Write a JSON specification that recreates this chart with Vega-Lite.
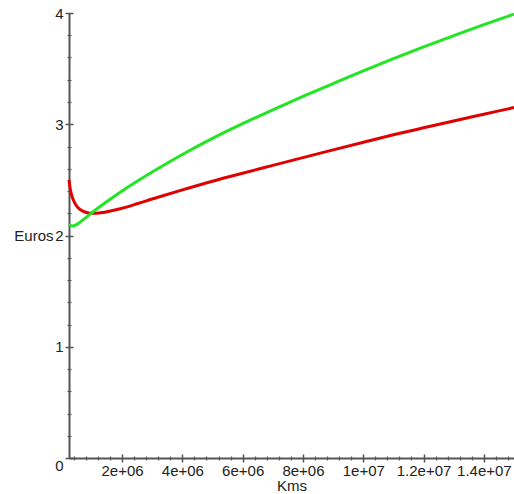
{
  "$schema": "https://vega.github.io/schema/vega-lite/v6.json",
  "width": 445,
  "height": 445,
  "autosize": {"type": "none"},
  "padding": {"left": 69, "top": 13, "right": 0, "bottom": 36},
  "background": "white",
  "config": {
    "view": {"stroke": null},
    "axis": {
      "labelFont": "Liberation Sans",
      "titleFont": "Liberation Sans",
      "labelFontSize": 15,
      "titleFontSize": 15,
      "titleFontWeight": "normal",
      "labelColor": "#222222",
      "titleColor": "#222222",
      "domainColor": "#555555",
      "tickColor": "#555555",
      "grid": false
    }
  },
  "data": {
    "values": [
      {"km": 240000, "euros": 2.5, "serie": "rouge"},
      {"km": 280000, "euros": 2.42, "serie": "rouge"},
      {"km": 330000, "euros": 2.36, "serie": "rouge"},
      {"km": 400000, "euros": 2.31, "serie": "rouge"},
      {"km": 480000, "euros": 2.27, "serie": "rouge"},
      {"km": 580000, "euros": 2.24, "serie": "rouge"},
      {"km": 700000, "euros": 2.219, "serie": "rouge"},
      {"km": 850000, "euros": 2.205, "serie": "rouge"},
      {"km": 1000000, "euros": 2.2, "serie": "rouge"},
      {"km": 1300000, "euros": 2.205, "serie": "rouge"},
      {"km": 2000000, "euros": 2.245, "serie": "rouge"},
      {"km": 2500000, "euros": 2.285, "serie": "rouge"},
      {"km": 3000000, "euros": 2.328, "serie": "rouge"},
      {"km": 4000000, "euros": 2.41, "serie": "rouge"},
      {"km": 5000000, "euros": 2.488, "serie": "rouge"},
      {"km": 6000000, "euros": 2.56, "serie": "rouge"},
      {"km": 7000000, "euros": 2.63, "serie": "rouge"},
      {"km": 8000000, "euros": 2.70, "serie": "rouge"},
      {"km": 9000000, "euros": 2.77, "serie": "rouge"},
      {"km": 10000000, "euros": 2.838, "serie": "rouge"},
      {"km": 11000000, "euros": 2.905, "serie": "rouge"},
      {"km": 12000000, "euros": 2.968, "serie": "rouge"},
      {"km": 13000000, "euros": 3.03, "serie": "rouge"},
      {"km": 14000000, "euros": 3.09, "serie": "rouge"},
      {"km": 15000000, "euros": 3.15, "serie": "rouge"},
      {"km": 240000, "euros": 2.1, "serie": "vert"},
      {"km": 350000, "euros": 2.085, "serie": "vert"},
      {"km": 500000, "euros": 2.1, "serie": "vert"},
      {"km": 700000, "euros": 2.14, "serie": "vert"},
      {"km": 1000000, "euros": 2.205, "serie": "vert"},
      {"km": 1500000, "euros": 2.305, "serie": "vert"},
      {"km": 2000000, "euros": 2.4, "serie": "vert"},
      {"km": 2500000, "euros": 2.487, "serie": "vert"},
      {"km": 3000000, "euros": 2.57, "serie": "vert"},
      {"km": 4000000, "euros": 2.728, "serie": "vert"},
      {"km": 5000000, "euros": 2.873, "serie": "vert"},
      {"km": 6000000, "euros": 3.005, "serie": "vert"},
      {"km": 7000000, "euros": 3.13, "serie": "vert"},
      {"km": 8000000, "euros": 3.25, "serie": "vert"},
      {"km": 9000000, "euros": 3.366, "serie": "vert"},
      {"km": 10000000, "euros": 3.48, "serie": "vert"},
      {"km": 11000000, "euros": 3.59, "serie": "vert"},
      {"km": 12000000, "euros": 3.695, "serie": "vert"},
      {"km": 13000000, "euros": 3.796, "serie": "vert"},
      {"km": 14000000, "euros": 3.895, "serie": "vert"},
      {"km": 15000000, "euros": 3.99, "serie": "vert"}
    ]
  },
  "layer": [
    {
      "mark": {"type": "line", "strokeWidth": 3, "interpolate": "monotone"},
      "encoding": {
        "x": {
          "field": "km", "type": "quantitative",
          "scale": {"domain": [240000, 15000000], "nice": false, "zero": false},
          "axis": {
            "orient": "bottom", "offset": -4, "domain": false, "tickSize": 8, "tickWidth": 1.5,
            "values": [2000000, 4000000, 6000000, 8000000, 10000000, 12000000, 14000000],
            "labelPadding": 1, "labelFlush": false, "labelOverlap": false,
            "labelExpr": "replace(format(datum.value, '~e'), 'e+', 'e+0')",
            "title": null
          }
        },
        "y": {
          "field": "euros", "type": "quantitative",
          "scale": {"domain": [0, 4], "nice": false, "zero": false},
          "axis": {
            "orient": "left", "offset": -4, "domain": false, "tickSize": 8, "tickWidth": 1.5,
            "values": [0, 1, 2, 3, 4], "format": "d",
            "labelPadding": 2, "labelFlush": false, "labelOverlap": false,
            "labelBaseline": {"expr": "datum.value == 0 ? 'top' : 'middle'"},
            "title": null
          }
        },
        "color": {
          "field": "serie", "type": "nominal",
          "scale": {"domain": ["rouge", "vert"], "range": ["#e00000", "#22e622"]},
          "legend": null
        }
      }
    },
    {
      "mark": {"type": "point", "opacity": 0},
      "encoding": {
        "x": {
          "field": "km", "type": "quantitative",
          "axis": {
            "orient": "bottom", "offset": -2, "domain": false, "tickSize": 4, "tickWidth": 1.2,
            "labels": false, "title": null,
            "values": [400000, 800000, 1200000, 1600000, 2400000, 2800000, 3200000, 3600000, 4400000, 4800000, 5200000, 5600000, 6400000, 6800000, 7200000, 7600000, 8400000, 8800000, 9200000, 9600000, 10400000, 10800000, 11200000, 11600000, 12400000, 12800000, 13200000, 13600000, 14400000, 14800000]
          }
        },
        "y": {
          "field": "euros", "type": "quantitative",
          "axis": {
            "orient": "left", "offset": -2, "domain": false, "tickSize": 4, "tickWidth": 1.2,
            "labels": false, "title": null,
            "values": [0.2, 0.4, 0.6, 0.8, 1.2, 1.4, 1.6, 1.8, 2.2, 2.4, 2.6, 2.8, 3.2, 3.4, 3.6, 3.8]
          }
        }
      }
    },
    {
      "mark": {"type": "point", "opacity": 0},
      "encoding": {
        "x": {
          "field": "km", "type": "quantitative",
          "axis": {
            "orient": "bottom", "offset": 0, "domain": true, "domainWidth": 2, "ticks": false, "labels": false,
            "title": "Kms", "titleY": 27, "titleBaseline": "middle"
          }
        },
        "y": {
          "field": "euros", "type": "quantitative",
          "axis": {
            "orient": "left", "offset": 0, "domain": true, "domainWidth": 2, "ticks": false, "labels": false,
            "title": "Euros", "titleAngle": 0, "titleAlign": "right", "titleBaseline": "middle",
            "titleX": -16, "titleY": 222
          }
        }
      }
    }
  ],
  "resolve": {"axis": {"x": "independent", "y": "independent"}}
}
